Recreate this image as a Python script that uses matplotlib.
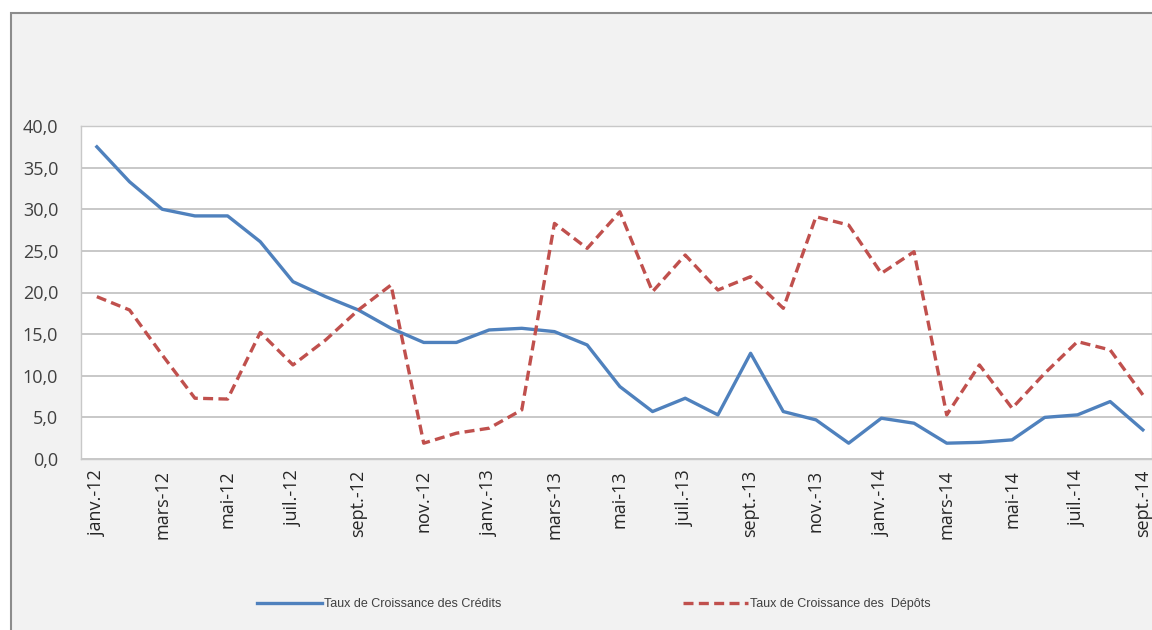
import matplotlib.pyplot as plt
from matplotlib.patches import Rectangle

months = ['janv.-12', 'févr.-12', 'mars-12', 'avr.-12', 'mai-12', 'juin-12', 'juil.-12', 'août-12',
          'sept.-12', 'oct.-12', 'nov.-12', 'déc.-12', 'janv.-13', 'févr.-13', 'mars-13', 'avr.-13',
          'mai-13', 'juin-13', 'juil.-13', 'août-13', 'sept.-13', 'oct.-13', 'nov.-13', 'déc.-13',
          'janv.-14', 'févr.-14', 'mars-14', 'avr.-14', 'mai-14', 'juin-14', 'juil.-14', 'août-14',
          'sept.-14']
credits = [37.5, 33.3, 30.0, 29.2, 29.2, 26.1, 21.3, 19.5, 17.9, 15.7, 14.0, 14.0, 15.5, 15.7,
           15.3, 13.7, 8.7, 5.7, 7.3, 5.3, 12.7, 5.7, 4.7, 1.9, 4.9, 4.3, 1.9, 2.0, 2.3, 5.0,
           5.3, 6.9, 3.5]
depots = [19.5, 17.9, 12.5, 7.3, 7.2, 15.2, 11.3, 14.3, 17.9, 20.9, 1.9, 3.1, 3.7, 5.9,
          28.3, 25.3, 29.7, 20.1, 24.5, 20.3, 21.9, 18.1, 29.1, 28.1, 22.3, 24.9, 5.3, 11.3,
          6.1, 10.3, 14.1, 13.1, 7.7]

fig = plt.figure(figsize=(11.52, 6.3), dpi=100, facecolor='white')
fig.patches.append(Rectangle((10.5 / 1152, -0.01), 1.02, 1 - 13 / 630 + 0.01,
                             transform=fig.transFigure, facecolor='#f2f2f2',
                             edgecolor='#8c8c8c', linewidth=1.5, zorder=-1))

ax = fig.add_axes([80.5 / 1152, 1 - 459 / 630, 1 - 80.5 / 1152, (459 - 126) / 630])
ax.set_facecolor('white')

x = list(range(len(months)))
ax.plot(x, credits, color='#4F81BD', linewidth=2.4, label='Taux de Croissance des Crédits')
ax.plot(x, depots, color='#C0504D', linewidth=2.4, linestyle=(0, (3, 1.6)),
        label='Taux de Croissance des  Dépôts')

ax.set_xlim(-0.5, 32.28)
ax.set_ylim(0, 40)
ax.set_yticks(range(0, 41, 5))
ax.set_yticklabels([f'{v},0' for v in range(0, 41, 5)])
ax.set_xticks(x[::2])
ax.set_xticklabels(months[::2], rotation=90)
ax.tick_params(axis='y', length=0, pad=16, labelsize=13, labelcolor='#404040')
ax.tick_params(axis='x', length=0, pad=8, labelsize=13, labelcolor='#262626')
for lab in ax.get_xticklabels() + ax.get_yticklabels():
    lab.set_family('Open Sans')

ax.grid(axis='y', color='#bfbfbf', linewidth=1.2)
ax.set_axisbelow(True)
for s in ax.spines.values():
    s.set_color('#c8c8c8')
    s.set_linewidth(1)

leg = fig.legend(loc='center', bbox_to_anchor=(594 / 1152, 1 - 604 / 630), ncol=2,
                 frameon=False, handlelength=5.2, columnspacing=14.5,
                 handletextpad=0.2, prop={'family': 'Liberation Sans', 'size': 9})
for t in leg.get_texts():
    t.set_color('#404040')

fig.savefig('out.png', dpi=100, facecolor=fig.get_facecolor())
